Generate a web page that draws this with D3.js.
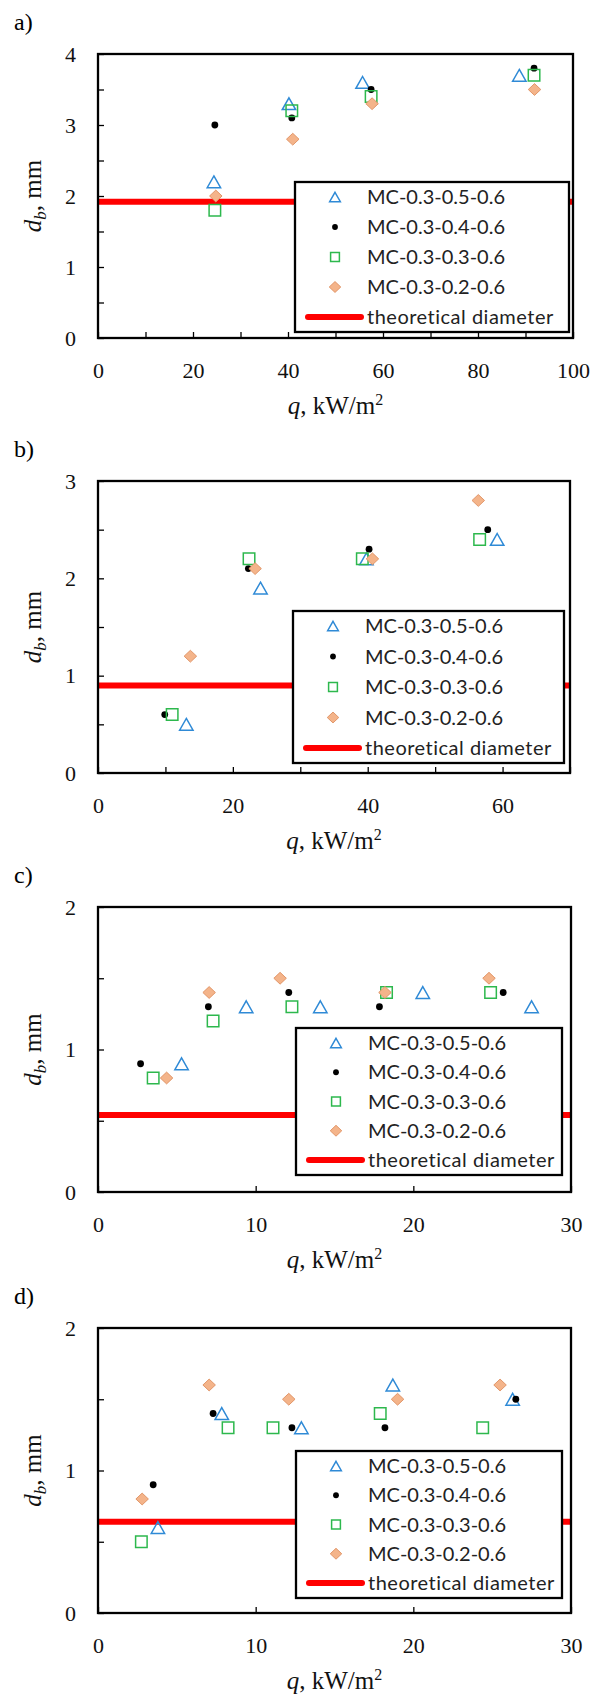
<!DOCTYPE html>
<html><head><meta charset="utf-8">
<script src="https://cdn.jsdelivr.net/npm/d3@7"></script>
<style>body{margin:0;background:#fff}</style>
</head><body><svg id="c" width="601" height="1697"></svg>
<script>
// ---------- data ----------
const seriesNames = ["MC-0.3-0.5-0.6","MC-0.3-0.4-0.6","MC-0.3-0.3-0.6","MC-0.3-0.2-0.6"];
const theoryLabel = "theoretical diameter";
const panelLabels = ["a)","b)","c)","d)"];
const xMax = [100, 70, 30, 30];
const yMax = [4, 3, 2, 2];
const xLabelStep = [20, 20, 10, 10];
const xMinorStep = [10, 10, 10, 10];
const theory = [1.92, 0.9, 0.54, 0.64];

// panel a  [q, d_b]
const a05 = [[24.4,2.2],[40.2,3.3],[55.7,3.6],[88.7,3.7]];
const a04 = [[24.6,3.0],[40.8,3.1],[57.5,3.5],[91.8,3.8]];
const a03 = [[24.6,1.8],[40.8,3.2],[57.5,3.4],[91.8,3.7]];
const a02 = [[24.8,2.0],[41.0,2.8],[57.7,3.3],[91.9,3.5]];
// panel b
const b05 = [[13.1,0.5],[24.1,1.9],[39.8,2.2],[59.2,2.4]];
const b04 = [[9.9,0.6],[22.3,2.1],[40.2,2.3],[57.8,2.5]];
const b03 = [[11.0,0.6],[22.4,2.2],[39.2,2.2],[56.6,2.4]];
const b02 = [[13.7,1.2],[23.3,2.1],[40.7,2.2],[56.4,2.8]];
// panel c
const c05 = [[5.3,0.9],[9.4,1.3],[14.1,1.3],[20.6,1.4],[27.5,1.3]];
const c04 = [[2.7,0.9],[7.0,1.3],[12.1,1.4],[17.85,1.3],[25.7,1.4]];
const c03 = [[3.5,0.8],[7.3,1.2],[12.3,1.3],[18.3,1.4],[24.9,1.4]];
const c02 = [[4.35,0.8],[7.05,1.4],[11.55,1.5],[18.2,1.4],[24.8,1.5]];
// panel d
const d05 = [[3.8,0.6],[7.85,1.4],[12.9,1.3],[18.7,1.6],[26.3,1.5]];
const d04 = [[3.5,0.9],[7.3,1.4],[12.3,1.3],[18.2,1.3],[26.5,1.5]];
const d03 = [[2.75,0.5],[8.25,1.3],[11.1,1.3],[17.9,1.4],[24.4,1.3]];
const d02 = [[2.8,0.8],[7.05,1.6],[12.1,1.5],[19.0,1.5],[25.5,1.6]];

const panelSeries = [[a05,a04,a03,a02],[b05,b04,b03,b02],[c05,c04,c03,c02],[d05,d04,d03,d02]];

// ---------- layout / style ----------
const boxes = [
  {l:98, r:573, t:54,  b:338,  lx:295, ly:182,  lw:274, lh:150},
  {l:98, r:570, t:481, b:773,  lx:293, ly:611,  lw:271, lh:152},
  {l:98, r:571, t:907, b:1192, lx:296, ly:1028, lw:266, lh:147},
  {l:98, r:571, t:1328,b:1613, lx:296, ly:1451, lw:266, lh:147}
];
const blue = "#2f8ad6", green = "#2db84d", orangeFill = "#f4b48a", orangeStroke = "#e2976a", red = "#ff0000";
const serif = "'Liberation Serif','Times New Roman',serif";
const sans = "Lato,'Open Sans',sans-serif";

function triPath(w,h){return `M0,${-h/2}L${w/2},${h/2}L${-w/2},${h/2}Z`;}
function sqPath(s){return `M${-s/2},${-s/2}h${s}v${s}h${-s}Z`;}
function diaPath(w,h){return `M0,${-h/2}L${w/2},0L0,${h/2}L${-w/2},0Z`;}

function drawMarker(g, kind, x, y, big){
  const k = big ? 1 : 0.8;
  if(kind===0){
    g.append("path").attr("d", triPath(13.4*k, 11.8*k)).attr("transform",`translate(${x},${y})`)
      .attr("fill","none").attr("stroke",blue).attr("stroke-width",1.5);
  } else if(kind===1){
    g.append("circle").attr("cx",x).attr("cy",y).attr("r",big?3.4:2.9).attr("fill","#000");
  } else if(kind===2){
    g.append("path").attr("d", sqPath(big?11.5:8.8)).attr("transform",`translate(${x},${y})`)
      .attr("fill","none").attr("stroke",green).attr("stroke-width",1.5);
  } else {
    g.append("path").attr("d", diaPath(12.5*k*(big?1:1.15), 11.8*k*(big?1:1.15))).attr("transform",`translate(${x},${y})`)
      .attr("fill",orangeFill).attr("stroke",orangeStroke).attr("stroke-width",1);
  }
}

const svg = d3.select("#c");

boxes.forEach((bx, p) => {
  const g = svg.append("g");
  const x = d3.scaleLinear().domain([0, xMax[p]]).range([bx.l, bx.r]);
  const y = d3.scaleLinear().domain([0, yMax[p]]).range([bx.b, bx.t]);

  // axes with inward ticks
  const xt = d3.range(0, xMax[p] + 0.001, xMinorStep[p]);
  const xAxis = d3.axisBottom(x).tickValues(xt).tickSizeInner(-6).tickSizeOuter(0).tickPadding(24)
    .tickFormat(d => (Math.abs(d % xLabelStep[p]) < 1e-9) ? d3.format("d")(d) : "");
  const ax = g.append("g").attr("transform",`translate(0,${bx.b})`).call(xAxis);
  const yt = d3.range(0, yMax[p] + 0.001, 0.5);
  const yAxis = d3.axisLeft(y).tickValues(yt).tickSizeInner(-6).tickSizeOuter(0).tickPadding(22)
    .tickFormat(d => Number.isInteger(d) ? d3.format("d")(d) : "");
  const ay = g.append("g").attr("transform",`translate(${bx.l},0)`).call(yAxis);
  [ax, ay].forEach(a => {
    a.select(".domain").remove();
    a.selectAll("line").attr("stroke","#000").attr("stroke-width",1.3);
    a.selectAll("text").attr("font-family",serif).attr("font-size",22).attr("fill","#111");
  });

  // theoretical line
  g.append("line").attr("x1",x(0)).attr("x2",x(xMax[p])).attr("y1",y(theory[p])).attr("y2",y(theory[p]))
    .attr("stroke",red).attr("stroke-width",6);

  // points
  panelSeries[p].forEach((ser, k) => {
    ser.forEach(d => drawMarker(g, k, x(d[0]), y(d[1]), true));
  });

  // legend
  g.append("rect").attr("x",bx.lx).attr("y",bx.ly).attr("width",bx.lw).attr("height",bx.lh)
    .attr("fill","#fff").attr("stroke","#000").attr("stroke-width",2.3);
  const step = (bx.lh - 30) / 4;
  seriesNames.forEach((name, k) => {
    const cy = bx.ly + 15 + k*step;
    drawMarker(g, k, bx.lx + 40, cy, false);
    g.append("text").attr("x", bx.lx + 72).attr("y", cy).attr("dy","0.36em")
      .attr("font-family",sans).attr("font-size",20).attr("fill","#222").text(name);
  });
  const cyT = bx.ly + 15 + 4*step;
  g.append("line").attr("x1",bx.lx+13).attr("x2",bx.lx+66).attr("y1",cyT).attr("y2",cyT)
    .attr("stroke",red).attr("stroke-width",6).attr("stroke-linecap","round");
  g.append("text").attr("x", bx.lx + 72).attr("y", cyT).attr("dy","0.36em")
    .attr("font-family",sans).attr("font-size",20).attr("letter-spacing","0.5px").attr("fill","#222").text(theoryLabel);

  // frame
  g.append("rect").attr("x",bx.l).attr("y",bx.t).attr("width",bx.r-bx.l).attr("height",bx.b-bx.t)
    .attr("fill","none").attr("stroke","#000").attr("stroke-width",2.3);

  // panel label
  g.append("text").attr("x",14).attr("y",bx.t-24).attr("font-family",serif).attr("font-size",24).text(panelLabels[p]);

  // x title
  const xtxt = g.append("text").attr("x",(bx.l+bx.r)/2).attr("y",bx.b+76).attr("text-anchor","middle")
    .attr("font-family",serif).attr("font-size",25).attr("fill","#111");
  xtxt.append("tspan").attr("font-style","italic").text("q");
  xtxt.append("tspan").text(", kW/m");
  xtxt.append("tspan").attr("font-size",16).attr("dy",-9).text("2");

  // y title
  const ytxt = g.append("text").attr("transform",`translate(41,${(bx.t+bx.b)/2}) rotate(-90)`)
    .attr("text-anchor","middle").attr("font-family",serif).attr("font-size",25).attr("fill","#111");
  ytxt.append("tspan").attr("font-style","italic").text("d");
  ytxt.append("tspan").attr("font-style","italic").attr("font-size",17).attr("dy",5).text("b");
  ytxt.append("tspan").attr("dy",-5).text(", mm");
});
</script>
</body></html>
